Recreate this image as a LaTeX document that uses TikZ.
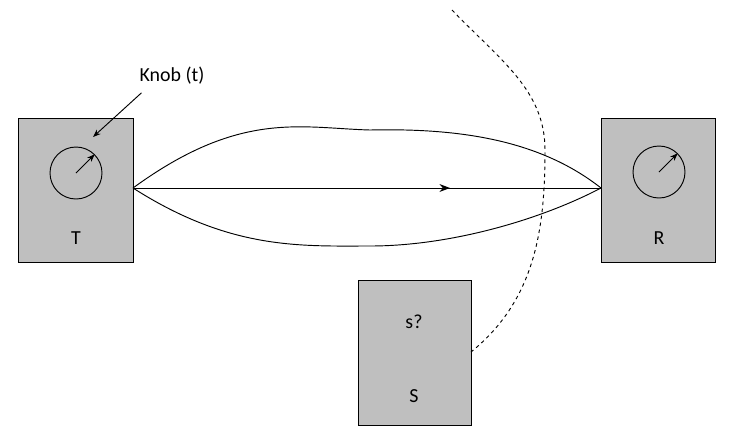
\documentclass[tikz,border=0pt]{standalone}
\usepackage{fontspec}
\setmainfont{Carlito}
\usetikzlibrary{arrows.meta}
\begin{document}
\begin{tikzpicture}[
      x=0.03cm, y=-0.03cm,
      >=Stealth,
      box/.style={draw, thick, fill=black!25},
      knob/.style={draw, thick, circle, minimum size=1.56cm, inner sep=0pt},
      lbl/.style={font=\fontsize{17}{20}\selectfont},
      beam/.style={thick}
      ]
      \useasboundingbox (0,0) rectangle (747,436);
      % boxes
      \draw [box] (18,118) rectangle (133,262);
      \draw [box] (601,118) rectangle (715,262);
      \draw [box] (358,280) rectangle (471,425);
      % knobs
      \node [knob] (knobT) at (76,173) {};
      \draw [->, thick] (knobT.center) -- (knobT.45);
      \node [knob] (knobR) at (659,172) {};
      \draw [->, thick] (knobR.center) -- (knobR.45);
      % labels
      \node [lbl] (labT) at (76,238) {T};
      \node [lbl] (labR) at (659,238) {R};
      \node [lbl] (labQ) at (414,322) {s?};
      \node [lbl] (labS) at (414,396) {S};
      \node [lbl] (labKnob) at (172,76) {Knob (t)};
      \coordinate (tip) at (93,137);
      \draw [->, thick] (labKnob.south west) ++(6,4) -- (tip);
      % beam
      \coordinate (src) at (133,188);
      \coordinate (dst) at (601,188);
      \draw [beam] (src) .. controls (240,110) and (300,128) .. (370,130)
                   .. controls (460,128) and (540,140) .. (dst);
      \draw [beam] (src) .. controls (230,250) and (300,246) .. (370,246)
                   .. controls (450,246) and (540,220) .. (dst);
      \draw [beam, -{Stealth[length=9pt]}] (src) -- (450,188);
      \draw [beam] (445,188) -- (dst);
      % boundary
      \coordinate (top) at (452,10);
      \coordinate (bot) at (471,352);
      \draw [thick, dashed] (top) .. controls (500,60) and (545,90) .. (545,150)
            .. controls (545,230) and (535,300) .. (bot);
    \end{tikzpicture}
\end{document}
